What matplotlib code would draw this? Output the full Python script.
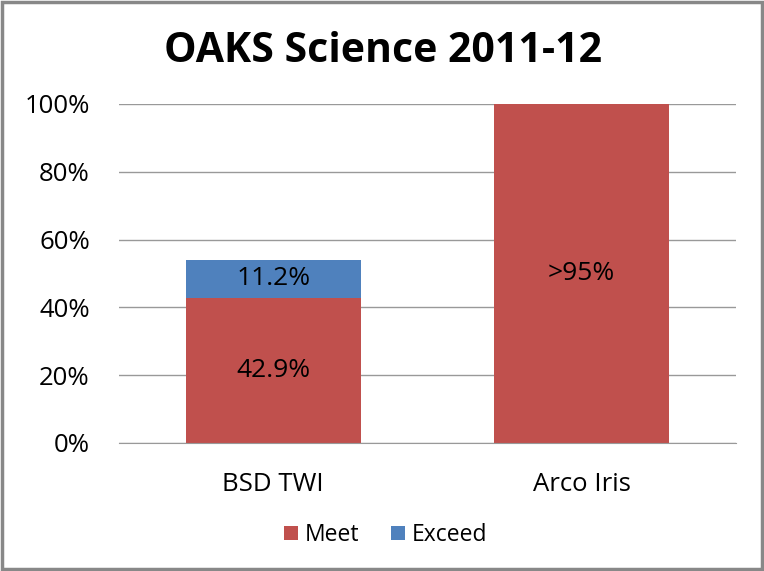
import matplotlib.pyplot as plt
from matplotlib.patches import Rectangle

categories = ['BSD TWI', 'Arco Iris']
meet = [42.9, 100.0]
exceed = [11.2, 0.0]
meet_labels = ['42.9%', '>95%']
exceed_labels = ['11.2%', '']
yticks = [0, 20, 40, 60, 80, 100]

red = '#C0504D'
blue = '#4F81BD'

plt.rcParams['font.family'] = ['Open Sans', 'DejaVu Sans']

fig = plt.figure(figsize=(7.64, 5.71), dpi=100)
ax = fig.add_axes([0.1558, 0.2242, 0.8072, 0.5937])

x = range(len(categories))
b1 = ax.bar(x, meet, width=0.567, color=red, label='Meet', zorder=2)
b2 = ax.bar(x, exceed, width=0.567, bottom=meet, color=blue, label='Exceed', zorder=2)

for i in x:
    ax.text(i, meet[i] / 2, meet_labels[i], ha='center', va='center', fontsize=19)
    if exceed_labels[i]:
        ax.text(i, meet[i] + exceed[i] / 2, exceed_labels[i], ha='center', va='center', fontsize=19)

ax.set_xlim(-0.5, 1.5)
ax.set_ylim(0, 100)
ax.set_yticks(yticks)
ax.set_yticklabels([f'{t}%' for t in yticks])
ax.set_xticks(list(x))
ax.set_xticklabels(categories)
ax.tick_params(axis='both', length=0, labelsize=18.5)
ax.tick_params(axis='x', pad=21)
ax.tick_params(axis='y', pad=21)
ax.yaxis.grid(True, color='#999999', linewidth=1, zorder=0)
for s in ['top', 'right', 'left']:
    ax.spines[s].set_visible(False)
ax.spines['bottom'].set_color('#999999')
fig.suptitle('OAKS Science 2011-12', x=0.501, y=0.946, fontsize=29.5, fontweight='bold')

fig.legend(handles=[b1, b2], loc='center', bbox_to_anchor=(0.505, 0.063), ncol=2,
           frameon=False, fontsize=16.5, handlelength=0.6, handleheight=0.6,
           handletextpad=0.3, columnspacing=1.4)

fig.patches.append(Rectangle((0.002, 0.003), 0.995, 0.993, transform=fig.transFigure,
                             fill=False, edgecolor='#888888', linewidth=2.5))

fig.savefig('out.png', dpi=100)
